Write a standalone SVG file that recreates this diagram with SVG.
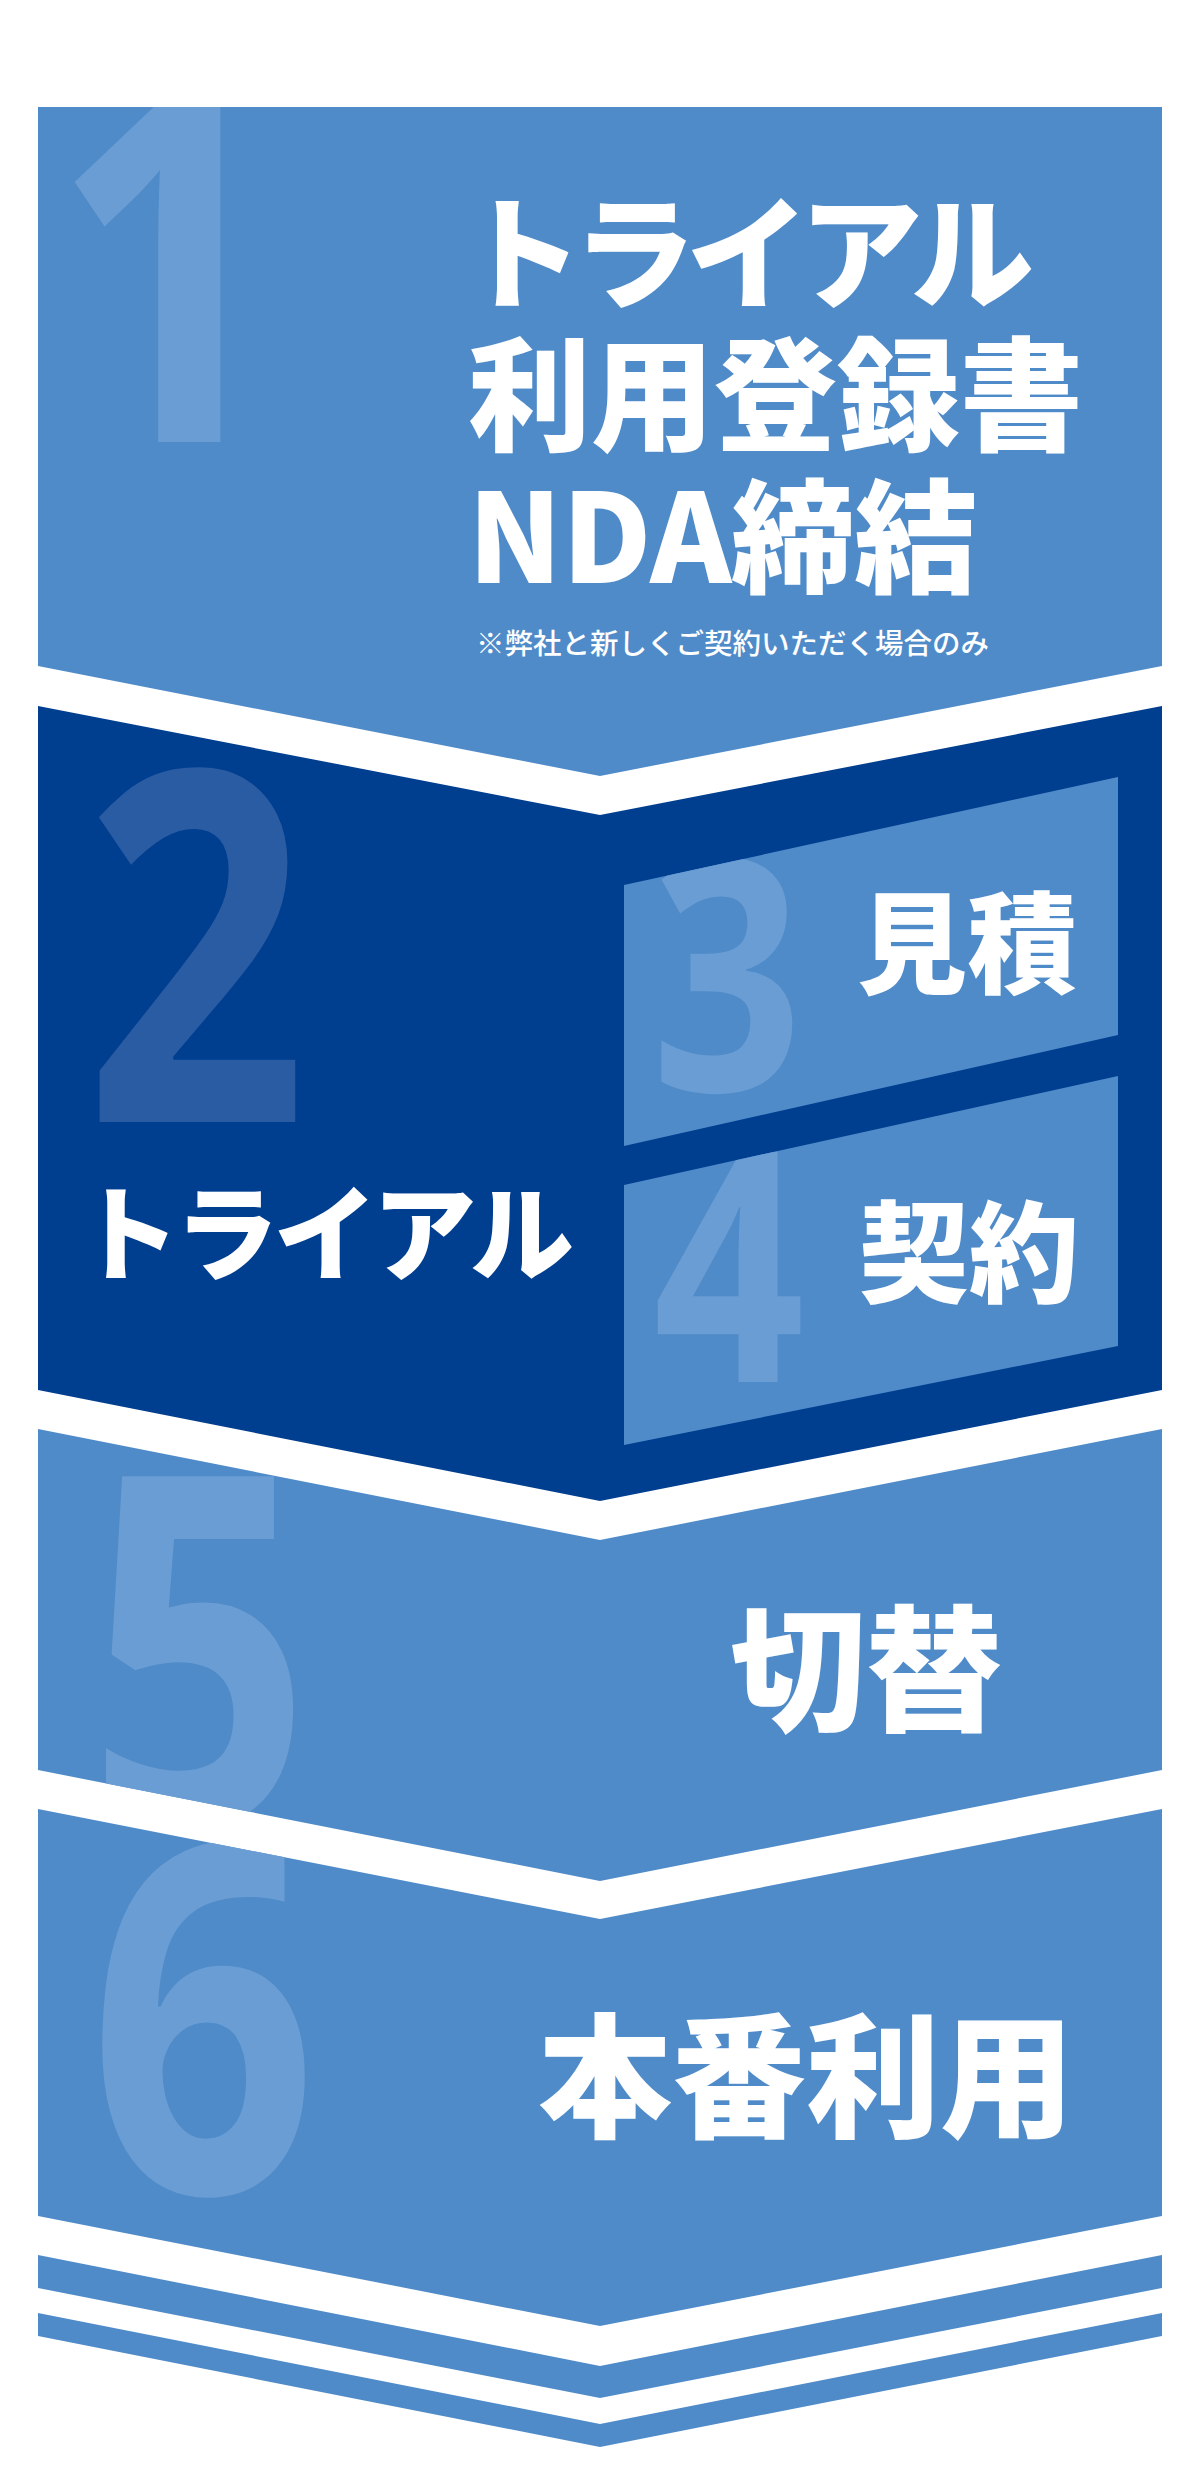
<svg xmlns="http://www.w3.org/2000/svg" xmlns:xlink="http://www.w3.org/1999/xlink" width="1200" height="2486" viewBox="0 0 1200 2486">
<style>
.light{fill:#4f8bc9}
.dark{fill:#003e8f}
.dg{font-family:"Open Sans","DejaVu Sans",sans-serif;font-weight:700;text-anchor:middle}
.dgl{fill:#6a9dd3}
.dgd{fill:#2a5ca3}
.jp{font-family:"Noto Sans CJK JP","Noto Sans CJK SC",sans-serif;font-weight:900;fill:#ffffff}
.note{font-family:"Noto Sans CJK JP","Noto Sans CJK SC",sans-serif;font-weight:500;fill:#ffffff;font-size:28.5px}
</style>
<defs>
<polygon id="p1" points="38,107 1162,107 1162,666 600,776 38,666"/>
<polygon id="p2" points="38,706 600,815 1162,706 1162,1390 600,1501 38,1390"/>
<polygon id="p3" points="624,885 1118,777 1118,1035 624,1146"/>
<polygon id="p4" points="624,1185 1118,1076 1118,1346 624,1445"/>
<polygon id="p5" points="38,1429 600,1540 1162,1429 1162,1770 600,1881 38,1770"/>
<polygon id="p6" points="38,1809 600,1919 1162,1809 1162,2216 600,2326 38,2216"/>
<clipPath id="c1"><use xlink:href="#p1"/></clipPath>
<clipPath id="c2"><use xlink:href="#p2"/></clipPath>
<clipPath id="c3"><use xlink:href="#p3"/></clipPath>
<clipPath id="c4"><use xlink:href="#p4"/></clipPath>
<clipPath id="c5"><use xlink:href="#p5"/></clipPath>
<clipPath id="c6"><use xlink:href="#p6"/></clipPath>
</defs>
<rect width="1200" height="2486" fill="#ffffff"/>

<g id="step1">
<use xlink:href="#p1" class="light"/>
<g clip-path="url(#c1)"><text class="dg dgl" font-size="490" transform="translate(168,442) scale(0.84,1)">1</text></g>
<text class="jp" font-size="123" x="460" y="299" textLength="574">トライアル</text>
<text class="jp" font-size="123" x="468" y="441">利用登録書</text>
<text class="jp" font-size="123" x="468" y="583">NDA締結</text>
<text class="note" x="476" y="654">※弊社と新しくご契約いただく場合のみ</text>
</g>

<g id="step2">
<use xlink:href="#p2" class="dark"/>
<g clip-path="url(#c2)"><text class="dg dgd" font-size="490" transform="translate(196,1122) scale(0.8,1)">2</text></g>
<text class="jp" font-size="104" x="76" y="1273" textLength="498">トライアル</text>
</g>

<g id="step3">
<use xlink:href="#p3" class="light"/>
<g clip-path="url(#c3)"><text class="dg dgl" font-size="323" transform="translate(727,1091) scale(0.82,1)">3</text></g>
<text class="jp" font-size="110" x="857" y="985">見積</text>
</g>

<g id="step4">
<use xlink:href="#p4" class="light"/>
<g clip-path="url(#c4)"><text class="dg dgl" font-size="323" transform="translate(729,1382) scale(0.82,1)">4</text></g>
<text class="jp" font-size="110" x="859" y="1294">契約</text>
</g>

<g id="step5">
<use xlink:href="#p5" class="light"/>
<g clip-path="url(#c5)"><text class="dg dgl" font-size="490" transform="translate(199,1826) scale(0.8,1)">5</text></g>
<text class="jp" font-size="136" x="730" y="1721">切替</text>
</g>

<g id="step6">
<use xlink:href="#p6" class="light"/>
<g clip-path="url(#c6)"><text class="dg dgl" font-size="490" transform="translate(203,2193) scale(0.82,1)">6</text></g>
<text class="jp" font-size="134" x="538" y="2127">本番利用</text>
</g>

<g id="connectors">
<polygon class="light" points="38,2255 600,2366 1162,2255 1162,2288 600,2398 38,2288"/>
<polygon class="light" points="38,2313 600,2424 1162,2313 1162,2336 600,2447 38,2336"/>
</g>
</svg>
